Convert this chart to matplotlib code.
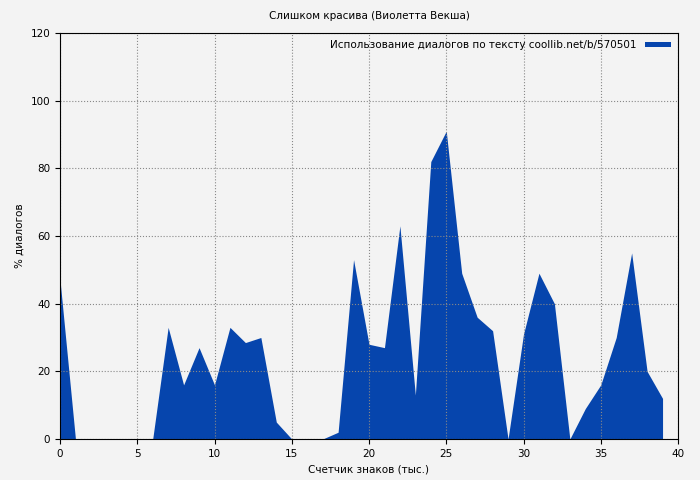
import matplotlib.pyplot as plt

x_vals = list(range(40))
pct = [47, 0, 0, 0, 0, 0, 0, 33, 16, 27, 16, 33, 28.5, 30, 5, 0, 0, 0, 2, 53,
       28, 27, 63, 13, 82, 91, 49, 36, 32, 0, 31, 49, 40, 0, 9, 16, 30, 55, 20, 12]

title = "Слишком красива (Виолетта Векша)"
legend_label = "Использование диалогов по тексту coollib.net/b/570501"

plt.rcParams["font.size"] = 7.5
fig = plt.figure(figsize=(7, 4.8), dpi=100, facecolor="#f3f3f3")
ax = fig.add_axes([60 / 700, 41 / 480, 618 / 700, 406 / 480])
ax.set_facecolor("#f3f3f3")
ax.fill_between(x_vals, pct, 0, color="#0645ad", linewidth=0, label=legend_label)
ax.set_xlim(0, 40)
ax.set_ylim(0, 120)
ax.set_xticks(range(0, 41, 5))
ax.set_yticks(range(0, 121, 20))
ax.grid(True, linestyle=":", color="#888888", linewidth=0.8)
ax.set_title(title, fontsize=7.5, pad=10)
ax.set_xlabel("Счетчик знаков (тыс.)")
ax.set_ylabel("% диалогов")
leg = ax.legend(loc="upper right", frameon=False, handlelength=2.5, handleheight=0.4,
                markerfirst=False, borderaxespad=0.3)
fig.savefig("out.png", dpi=100, facecolor=fig.get_facecolor())
